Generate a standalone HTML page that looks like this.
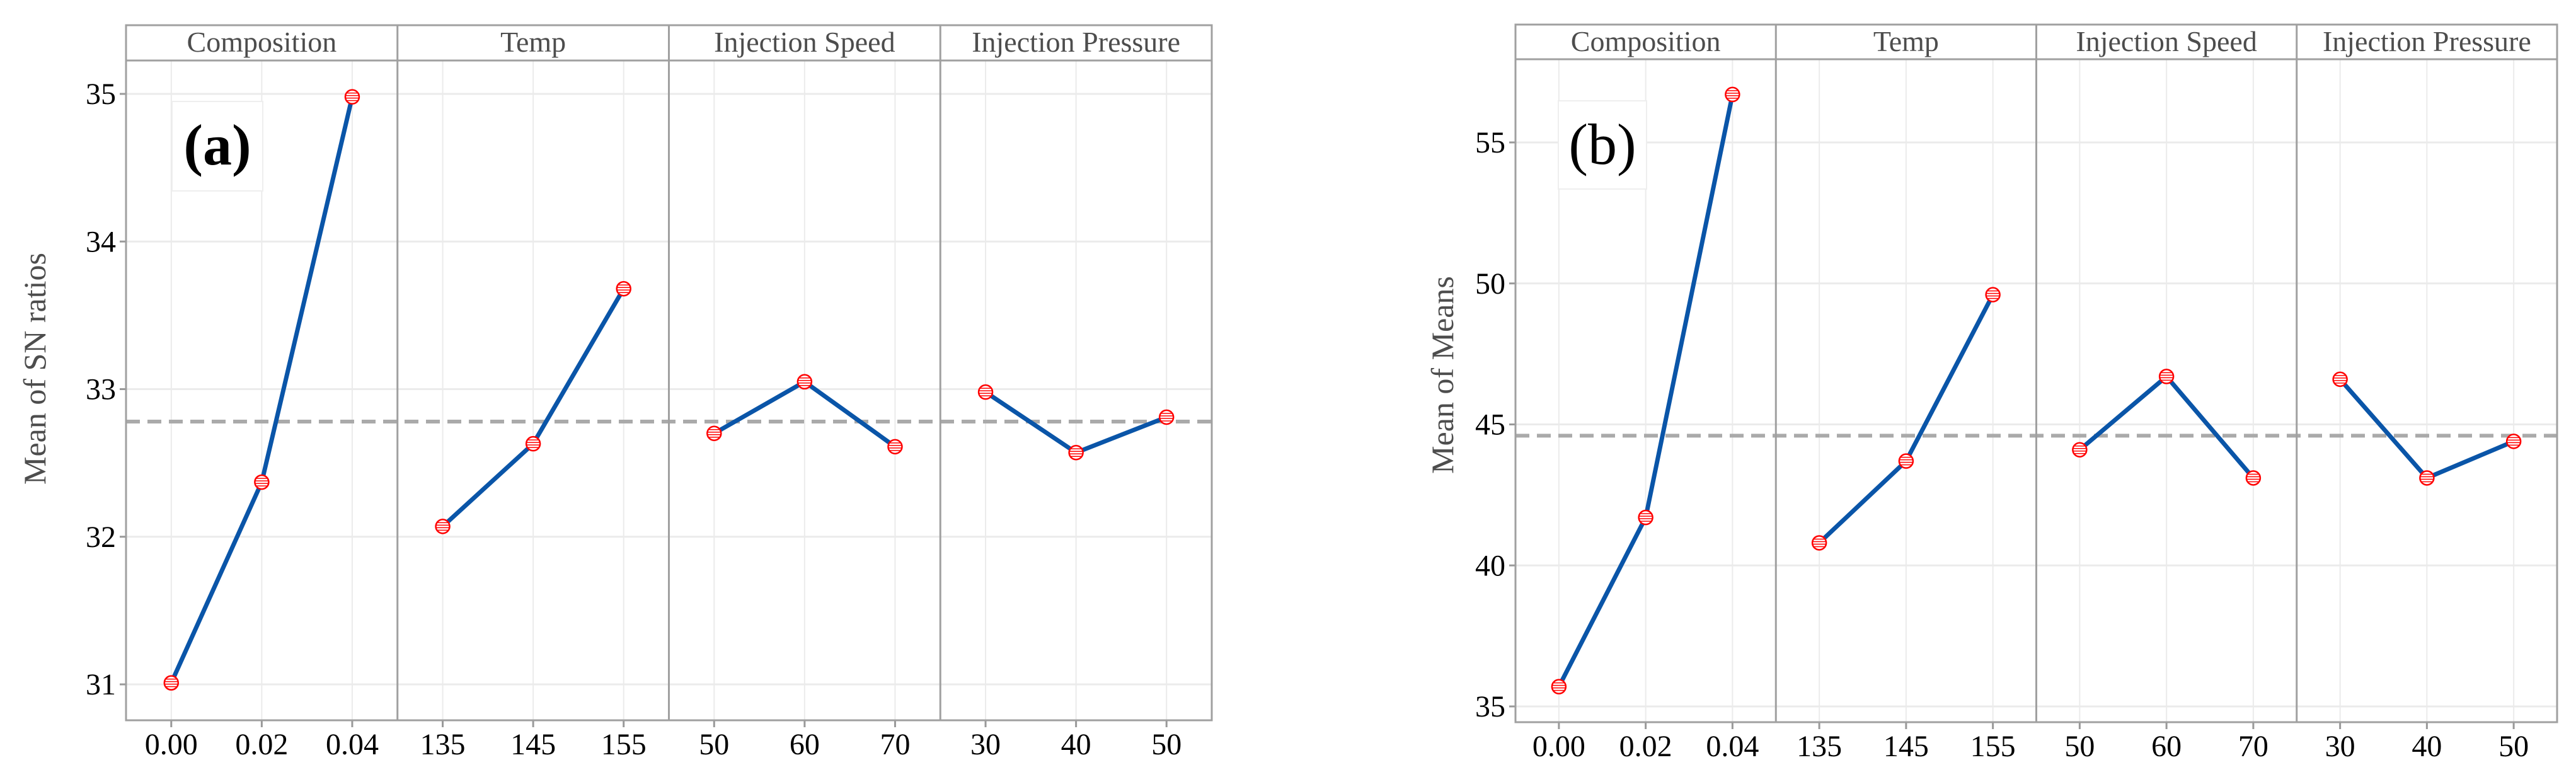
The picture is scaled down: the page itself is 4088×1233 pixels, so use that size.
<!DOCTYPE html>
<html><head><meta charset="utf-8"><style>
html,body{margin:0;padding:0;background:#fff}
svg{display:block}
text{font-family:"Liberation Serif",serif}
</style></head><body>
<svg id="chart" width="4088" height="1233" viewBox="0 0 4088 1233" xmlns="http://www.w3.org/2000/svg"></svg>
<script>
const facetNames = ["Composition","Temp","Injection Speed","Injection Pressure"];
const levelLabels = [["0.00","0.02","0.04"],["135","145","155"],["50","60","70"],["30","40","50"]];
const snValues = [[31.01,32.37,34.98],[32.07,32.63,33.68],[32.70,33.05,32.61],[32.98,32.57,32.81]];
const snMean = 32.78;
const snTicks = [31,32,33,34,35];
const meansValues = [[35.7,41.7,56.7],[40.8,43.7,49.6],[44.1,46.7,43.1],[46.6,43.1,44.4]];
const meansMean = 44.6;
const meansTicks = [35,40,45,50,55];

const NS="http://www.w3.org/2000/svg";
const svg=document.getElementById('chart');
function mk(tag,attrs,parent){const e=document.createElementNS(NS,tag);for(const k in attrs)e.setAttribute(k,attrs[k]);(parent||svg).appendChild(e);return e;}

function drawPanel(cfg){
  const g=mk('g',{});
  
  
  const L=cfg.left,R=cfg.right,T=cfg.top,B=cfg.bottom,ST=cfg.stripTop;
  const fw=(R-L)/4;
  const y=v=>cfg.y0px+(v-cfg.y0)*(cfg.y1px-cfg.y0px)/(cfg.y1-cfg.y0);
  const x=(f,i)=>L+f*fw+fw/6+i*fw/3;
  cfg.ticks.forEach(t=>{
    const yy=y(t);
    const l=mk('line',{x1:L,x2:R,y1:yy,y2:yy,stroke:'#ebebeb','stroke-width':3},g);
    
    mk('line',{x1:L-10,x2:L,y1:yy,y2:yy,stroke:'#999','stroke-width':3},g);
    const tx=mk('text',{x:L-16,y:yy+16,'text-anchor':'end','font-size':48,fill:'#000'},g);
    tx.textContent=t;
    
  });
  for(let f=0;f<4;f++)for(let i=0;i<3;i++){
    const xx=x(f,i);
    const l=mk('line',{x1:xx,x2:xx,y1:T,y2:B,stroke:'#ebebeb','stroke-width':2},g);
    
    mk('line',{x1:xx,x2:xx,y1:B,y2:B+11,stroke:'#999','stroke-width':3},g);
    const tx=mk('text',{x:xx,y:B+54,'text-anchor':'middle','font-size':48,fill:'#000'},g);
    tx.textContent=levelLabels[f][i];
    
  }
  const bx=mk('rect',{x:cfg.box[0],y:cfg.box[1],width:cfg.box[2],height:cfg.box[3],fill:'#fff',stroke:'#eeeeee','stroke-width':2},g);
  
  const lt=mk('text',{x:cfg.box[0]+cfg.box[2]/2,y:cfg.box[1]+100,'text-anchor':'middle','font-size':92,'font-weight':cfg.bold?'bold':'normal',fill:'#000'},g);
  lt.textContent=cfg.label;
  
  const ml=mk('line',{x1:L,x2:R,y1:y(cfg.mean),y2:y(cfg.mean),stroke:'#aaaaaa','stroke-width':6,'stroke-dasharray':'22 12'},g);
  
  for(let f=0;f<4;f++){
    const pts=cfg.values[f].map((v,i)=>x(f,i)+','+y(v)).join(' ');
    const pl=mk('polyline',{points:pts,fill:'none',stroke:'#0a55a8','stroke-width':7,'stroke-linejoin':'round'},g);
    
    cfg.values[f].forEach((v,i)=>{
      const cx=x(f,i),cy=y(v);
      const c=mk('circle',{cx:cx,cy:cy,r:11,fill:'#fff',stroke:'#ff0000','stroke-width':2.5},g);
      
      [-6,-2,2,6].forEach(d=>mk('line',{x1:cx-10,x2:cx+10,y1:cy+d,y2:cy+d,stroke:'#ff0000','stroke-width':1.5},g));
    });
  }
  mk('rect',{x:L,y:ST,width:R-L,height:B-ST,fill:'none',stroke:'#a0a0a0','stroke-width':3},g);
  mk('line',{x1:L,x2:R,y1:T,y2:T,stroke:'#a0a0a0','stroke-width':3},g);
  for(let f=1;f<4;f++){mk('line',{x1:L+f*fw,x2:L+f*fw,y1:ST,y2:B,stroke:'#a0a0a0','stroke-width':3},g);}
  facetNames.forEach((n,f)=>{
    const tx=mk('text',{x:L+f*fw+fw/2,y:ST+42,'text-anchor':'middle','font-size':46,fill:'#4d4d4d'},g);
    tx.textContent=n;
    
  });
  const yl=mk('text',{x:cfg.ylabX,y:cfg.ylabY,'text-anchor':'middle','font-size':50,fill:'#4d4d4d',transform:'rotate(-90 '+cfg.ylabX+' '+cfg.ylabY+')'},g);
  yl.textContent=cfg.ylab;
  
}

drawPanel({name:'panel-a-sn-ratios',left:200,right:1923,stripTop:40,top:96,bottom:1143,
  y0:31,y1:35,y0px:1086,y1px:149,ticks:snTicks,values:snValues,mean:snMean,
  box:[273,161,144,142],label:'(a)',bold:true,ylab:'Mean of SN ratios',ylabX:72,ylabY:585});
drawPanel({name:'panel-b-means',left:2405,right:4058,stripTop:39,top:94,bottom:1146,
  y0:35,y1:55,y0px:1121,y1px:226,ticks:meansTicks,values:meansValues,mean:meansMean,
  box:[2473,160,140,140],label:'(b)',bold:false,ylab:'Mean of Means',ylabX:2306,ylabY:595});
</script>
</body></html>
